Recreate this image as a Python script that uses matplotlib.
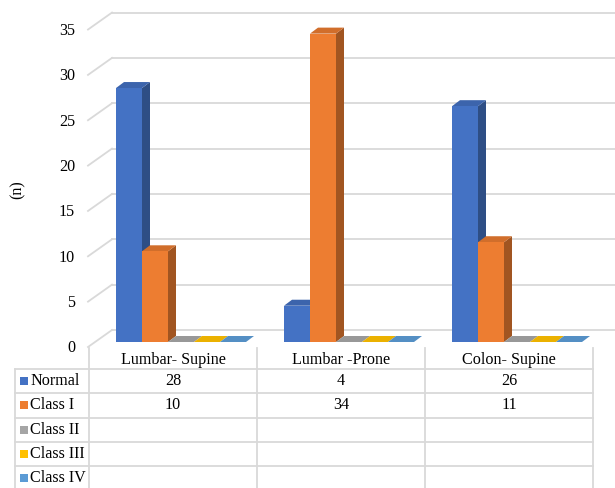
import matplotlib
matplotlib.use("Agg")
import matplotlib.pyplot as plt
from matplotlib.patches import Polygon, Rectangle
from matplotlib.lines import Line2D
from matplotlib.colors import to_rgb

categories = ["Lumbar- Supine", "Lumbar -Prone", "Colon- Supine"]
series_names = ["Normal", "Class I", "Class II", "Class III", "Class IV"]
normal = [28, 4, 26]
class_i = [10, 34, 11]
class_ii = [None, None, None]
class_iii = [None, None, None]
class_iv = [None, None, None]
series_values = [normal, class_i, class_ii, class_iii, class_iv]
series_colors = ["#4472C4", "#ED7D31", "#A5A5A5", "#FFC000", "#5B9BD5"]
y_ticks = [0, 5, 10, 15, 20, 25, 30, 35]

# pixel layout of the Excel-style pseudo 3D chart
W, H = 615, 488
PX_PER_CAT = 168.0
PX_PER_UNIT = 9.07
CAT_LEFT_PX = 89.0   # left edge of the first table column
BASE_PX = 342.0      # bar front baseline, from top
GRID = "#d9d9d9"
FONT = "Liberation Serif"
FS = 11.6


def xd(px):
    return (px - CAT_LEFT_PX) / PX_PER_CAT - 0.5


def yd(py):
    return (BASE_PX - py) / PX_PER_UNIT


def shade(color, f):
    r, g, b = to_rgb(color)
    return (r * f, g * f, b * f)


# depth offsets in data units
back_dx, back_dy = 17 / PX_PER_CAT, 12 / PX_PER_UNIT      # bar front -> back wall
front_dx, front_dy = -7 / PX_PER_CAT, -5 / PX_PER_UNIT    # bar front -> floor front
top_dx, top_dy = 8 / PX_PER_CAT, 6 / PX_PER_UNIT          # bar depth
bar_w = 26 / PX_PER_CAT
bar_start = 27 / PX_PER_CAT

fig = plt.figure(figsize=(W / 100, H / 100), dpi=100)
ax = fig.add_axes([0, 0, 1, 1])
ax.set_xlim(xd(0), xd(W))
ax.set_ylim(yd(H), yd(0))
ax.axis("off")

# back wall gridlines and left wall diagonals
wall_left = xd(88) - front_dx + back_dx
for g in y_ticks:
    ax.plot([wall_left, xd(W)], [g + back_dy, g + back_dy], color=GRID, lw=1.3, zorder=1)
    ax.plot([xd(88), wall_left], [g + front_dy, g + back_dy], color=GRID, lw=1.3, zorder=1)
    ax.text(xd(75), g + front_dy - 0.15, str(g), ha="right", va="center",
            family=FONT, fontsize=FS)

ax.text(xd(18), yd(190), "(n)", rotation=90, ha="center", va="center",
        family=FONT, fontsize=FS)

# bars
for i in range(len(categories)):
    for j, vals in enumerate(series_values):
        v = vals[i] or 0
        x0 = i - 0.5 + bar_start + j * bar_w
        x1 = x0 + bar_w
        c = series_colors[j]
        z = 3 + j
        side = [(x1, 0), (x1 + top_dx, top_dy), (x1 + top_dx, v + top_dy), (x1, v)]
        top = [(x0, v), (x1, v), (x1 + top_dx, v + top_dy), (x0 + top_dx, v + top_dy)]
        if v > 0:
            ax.add_patch(Polygon(side, closed=True, facecolor=shade(c, 0.68), edgecolor="none", zorder=z))
        ax.add_patch(Polygon(top, closed=True, facecolor=shade(c, 0.88 if v > 0 else 0.92),
                             edgecolor="none", zorder=z))
        if v > 0:
            ax.add_patch(Rectangle((x0, 0), bar_w, v, facecolor=c, edgecolor="none", zorder=z))


# data table
def hline(y, x0, x1):
    ax.add_line(Line2D([xd(x0), xd(x1)], [yd(y), yd(y)], color=GRID, lw=1.3, zorder=2))


def vline(x, y0, y1):
    ax.add_line(Line2D([xd(x), xd(x)], [yd(y0), yd(y1)], color=GRID, lw=1.3, zorder=2))


row_top, row_h = 369, 24.3
for k in range(len(categories) + 1):
    vline(CAT_LEFT_PX + k * PX_PER_CAT, 348, H)
vline(15, row_top, H)
for r in range(len(series_names) + 1):
    hline(row_top + r * row_h, 15, CAT_LEFT_PX + len(categories) * PX_PER_CAT)

for i, cat in enumerate(categories):
    ax.text(i, yd(359.5), cat, ha="center", va="center", family=FONT, fontsize=FS)

for j, name in enumerate(series_names):
    yc = row_top + row_h * (j + 0.5)
    ax.add_patch(Rectangle((xd(20), yd(yc + 4)), 8 / PX_PER_CAT, 8 / PX_PER_UNIT,
                           facecolor=series_colors[j], edgecolor="none", zorder=3))
    ax.text(xd(30.5), yd(yc), name, ha="left", va="center", family=FONT, fontsize=FS)
    for i, v in enumerate(series_values[j]):
        if v is not None:
            ax.text(i, yd(yc), str(v), ha="center", va="center", family=FONT, fontsize=FS)

fig.savefig("out.png", dpi=100)
